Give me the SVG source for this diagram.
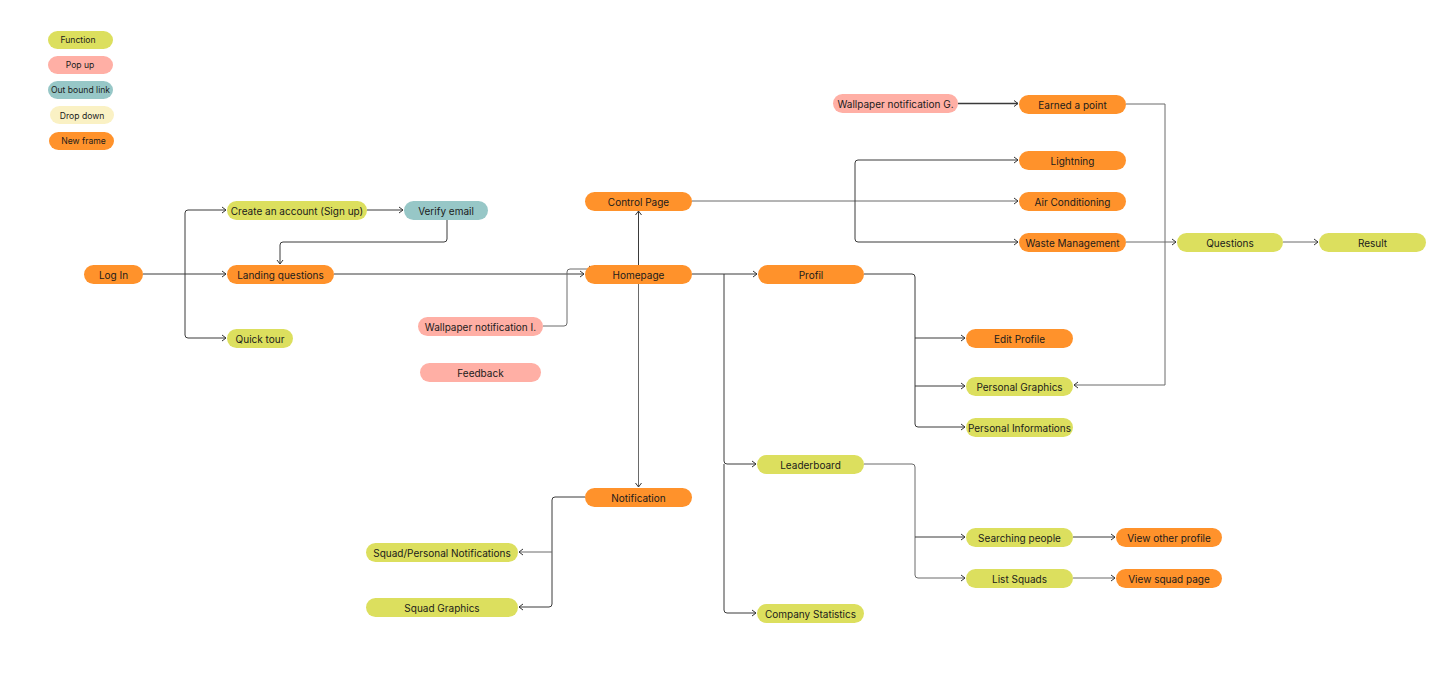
<svg xmlns="http://www.w3.org/2000/svg" width="1455" height="688" viewBox="0 0 1455 688">
<style>
.n rect{rx:9.5px;ry:9.5px}
.or rect{fill:#FF922B}
.li rect{fill:#DCDF5E}
.pk rect{fill:#FFAFA5}
.te rect{fill:#97C7C7}
.cr rect{fill:#FAF1C4}
text{font-family:Inter,"Noto Sans","Liberation Sans",sans-serif;font-size:10px;fill:#1b1b1b;text-anchor:middle;dominant-baseline:central}
.lg text{font-size:8.6px}
#connectors path{fill:none;stroke:#3a3a3a;stroke-width:1;marker-end:url(#arr)}
#connectors path.nm{marker-end:none}
#connectors path.lt{stroke:#6a6a6a}
</style>
<defs>
<marker id="arr" viewBox="0 0 6 8" refX="5.5" refY="4" markerWidth="6" markerHeight="8" markerUnits="userSpaceOnUse" orient="auto"><path d="M1.5,1 L5.5,4 L1.5,7" fill="none" stroke="#333" stroke-width="1"/></marker>
</defs>
<rect width="1455" height="688" fill="#fff"/>
<g id="connectors">
<path d="M143,274 H226"/>
<path d="M185,274 V213 Q185,210 188,210 H226"/>
<path d="M185,274 V335 Q185,338 188,338 H226"/>
<path d="M367,210 H403"/>
<path d="M447,220 V239 Q447,242 444,242 H283 Q280,242 280,245 V264"/>
<path d="M334,274 H584"/>
<path class="lt" d="M543,326 H564 Q567,326 567,323 V272 Q567,269 570,269 H593"/>
<path d="M638.5,265 V211"/>
<path class="lt" d="M638.5,284 V487"/>
<path d="M692,274 H757"/>
<path d="M724,274 V461 Q724,464 727,464 H756"/>
<path d="M724,464 V610 Q724,613 727,613 H756"/>
<path class="lt" d="M692,201 H1018"/>
<path d="M855,201 V163 Q855,160 858,160 H1018"/>
<path d="M855,201 V239 Q855,242 858,242 H1018"/>
<path d="M958,103.5 H1018" style="stroke-width:1.3"/>
<path class="lt" d="M1126,104 H1165 V385 H1074"/>
<path class="lt" d="M1126,242 H1176"/>
<path class="lt" d="M1283,242 H1318"/>
<path d="M864,274 H912 Q915,274 915,277 V424 Q915,427 918,427 H965"/>
<path d="M915,338 H965"/>
<path d="M915,386 H965"/>
<path class="lt" d="M864,464 H912 Q915,464 915,467 V575 Q915,578 918,578 H965"/>
<path d="M915,537 H965"/>
<path d="M1073,537 H1115"/>
<path class="lt" d="M1073,578 H1115"/>
<path d="M585,497 H555 Q552,497 552,500 V604 Q552,607 549,607 H519"/>
<path class="lt" d="M552,552 H519"/>
</g>
<g id="leg-function" class="n li lg"><rect x="48" y="31" width="65" height="18"/><text x="78" y="40">Function</text></g>
<g id="leg-popup" class="n pk lg"><rect x="48" y="56" width="65" height="18"/><text x="80" y="65">Pop up</text></g>
<g id="leg-outbound" class="n te lg"><rect x="48" y="81" width="65" height="18"/><text x="80.5" y="90">Out bound link</text></g>
<g id="leg-dropdown" class="n cr lg"><rect x="50" y="106" width="64" height="18"/><text x="82" y="115.5">Drop down</text></g>
<g id="leg-newframe" class="n or lg"><rect x="49" y="132" width="65" height="18"/><text x="83.5" y="141">New frame</text></g>

<g id="login" class="n or"><rect x="84" y="265" width="59" height="19"/><text x="113.5" y="274.5">Log In</text></g>
<g id="signup" class="n li"><rect x="227" y="201" width="140" height="19"/><text x="297" y="210.5">Create an account (Sign up)</text></g>
<g id="verify" class="n te"><rect x="404" y="201" width="84" height="19"/><text x="446" y="210.5">Verify email</text></g>
<g id="landing" class="n or"><rect x="227" y="265" width="107" height="19"/><text x="280.5" y="274.5">Landing questions</text></g>
<g id="quicktour" class="n li"><rect x="227" y="329" width="66" height="19"/><text x="260" y="338.5">Quick tour</text></g>
<g id="control" class="n or"><rect x="585" y="192" width="107" height="19"/><text x="638.5" y="201.5">Control Page</text></g>
<g id="homepage" class="n or"><rect x="585" y="265" width="107" height="19"/><text x="638.5" y="274.5">Homepage</text></g>
<g id="wallpaper-i" class="n pk"><rect x="418" y="317" width="125" height="19"/><text x="480.5" y="326.5">Wallpaper notification I.</text></g>
<g id="feedback" class="n pk"><rect x="420" y="363" width="121" height="19"/><text x="480.5" y="372.5">Feedback</text></g>
<g id="wallpaper-g" class="n pk"><rect x="833" y="94" width="125" height="19"/><text x="895.5" y="103.5">Wallpaper notification G.</text></g>
<g id="earned" class="n or"><rect x="1019" y="95" width="107" height="19"/><text x="1072.5" y="104.5">Earned a point</text></g>
<g id="lightning" class="n or"><rect x="1019" y="151" width="107" height="19"/><text x="1072.5" y="160.5">Lightning</text></g>
<g id="aircon" class="n or"><rect x="1019" y="192" width="107" height="19"/><text x="1072.5" y="201.5">Air Conditioning</text></g>
<g id="waste" class="n or"><rect x="1019" y="233" width="107" height="19"/><text x="1072.5" y="242.5">Waste Management</text></g>
<g id="questions" class="n li"><rect x="1177" y="233" width="106" height="19"/><text x="1230" y="242.5">Questions</text></g>
<g id="result" class="n li"><rect x="1319" y="233" width="107" height="19"/><text x="1372.5" y="242.5">Result</text></g>
<g id="profil" class="n or"><rect x="758" y="265" width="106" height="19"/><text x="811" y="274.5">Profil</text></g>
<g id="editprofile" class="n or"><rect x="966" y="329" width="107" height="19"/><text x="1019.5" y="338.5">Edit Profile</text></g>
<g id="persgraphics" class="n li"><rect x="966" y="377" width="107" height="19"/><text x="1019.5" y="386.5">Personal Graphics</text></g>
<g id="persinfo" class="n li"><rect x="966" y="418" width="107" height="19"/><text x="1019.5" y="427.5">Personal Informations</text></g>
<g id="leaderboard" class="n li"><rect x="757" y="455" width="107" height="19"/><text x="810.5" y="464.5">Leaderboard</text></g>
<g id="searching" class="n li"><rect x="966" y="528" width="107" height="19"/><text x="1019.5" y="537.5">Searching people</text></g>
<g id="viewother" class="n or"><rect x="1116" y="528" width="106" height="19"/><text x="1169" y="537.5">View other profile</text></g>
<g id="listsquads" class="n li"><rect x="966" y="569" width="107" height="19"/><text x="1019.5" y="578.5">List Squads</text></g>
<g id="viewsquad" class="n or"><rect x="1116" y="569" width="106" height="19"/><text x="1169" y="578.5">View squad page</text></g>
<g id="companystats" class="n li"><rect x="757" y="604" width="107" height="19"/><text x="810.5" y="613.5">Company Statistics</text></g>
<g id="notification" class="n or"><rect x="585" y="488" width="107" height="19"/><text x="638.5" y="497.5">Notification</text></g>
<g id="squadpersonal" class="n li"><rect x="366" y="543" width="152" height="19"/><text x="442" y="552.5">Squad/Personal Notifications</text></g>
<g id="squadgraphics" class="n li"><rect x="366" y="598" width="152" height="19"/><text x="442" y="607.5">Squad Graphics</text></g>
</svg>
